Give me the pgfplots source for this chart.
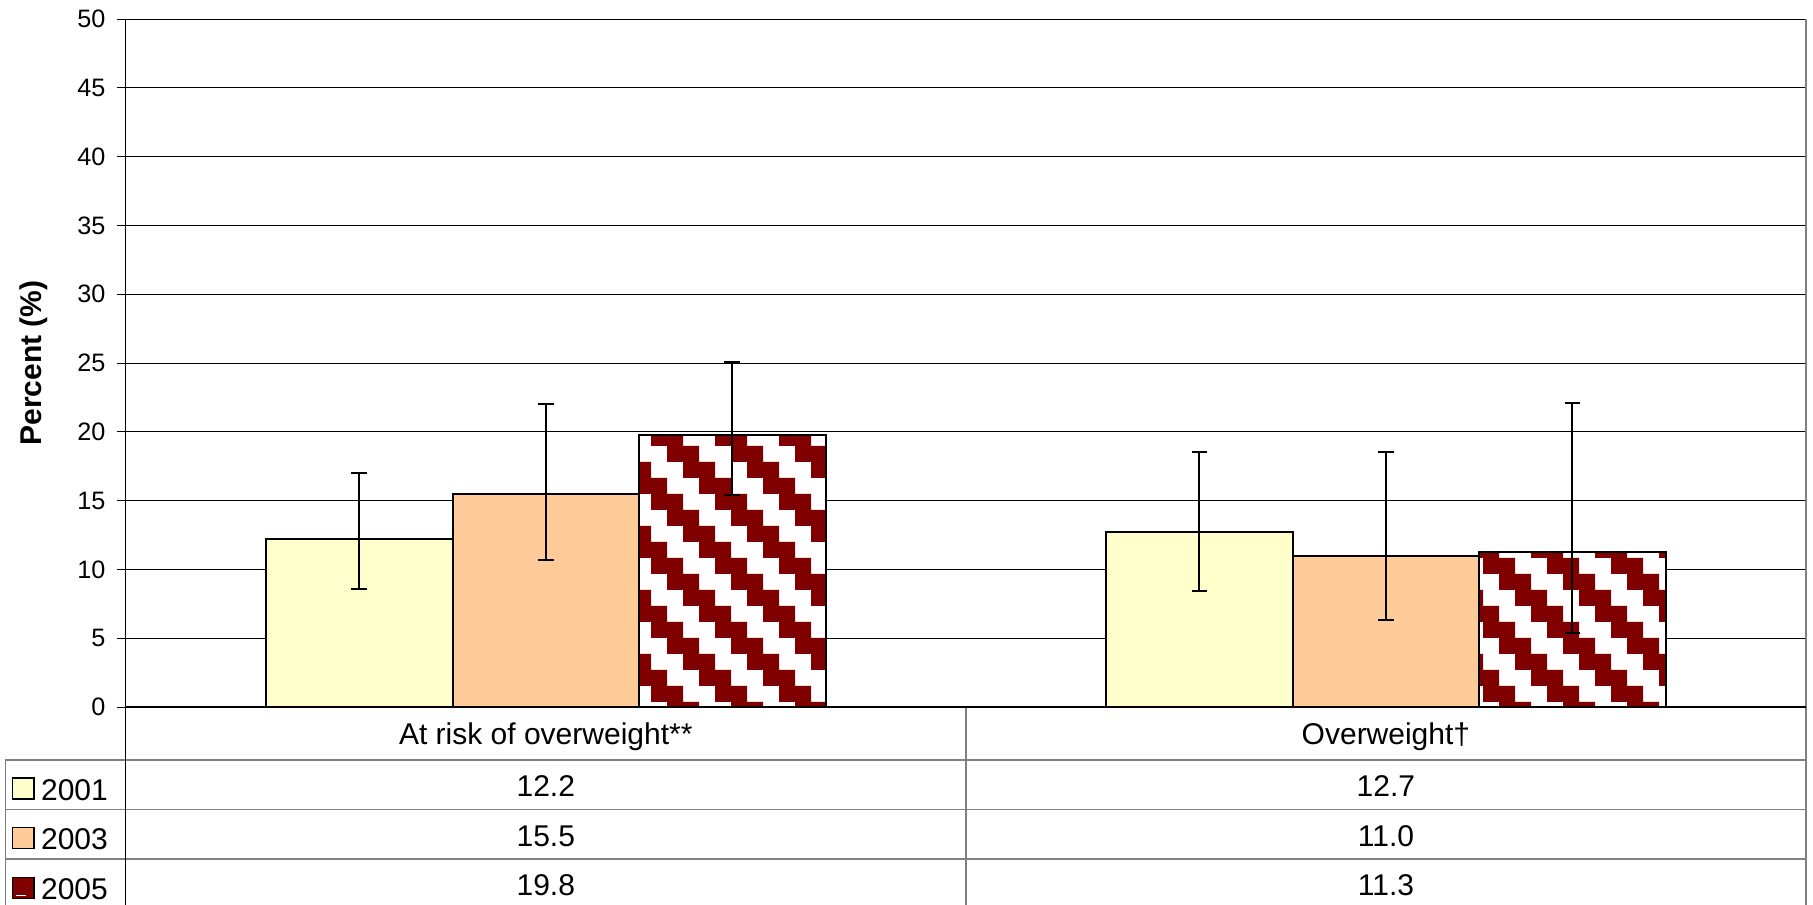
\documentclass[border=0pt]{standalone}
\usepackage{fontspec}
\setmainfont{Liberation Sans}
\usepackage{pgfplots}
\pgfplotsset{compat=1.18}
\usepackage{pgfplotstable}
\usetikzlibrary{patterns}
\definecolor{c01}{HTML}{FFFFCC}
\definecolor{c03}{HTML}{FFCC99}
\definecolor{c05}{HTML}{800000}
\definecolor{tgray}{HTML}{808080}

% staircase diagonal (down-right), 32pt period, rows 8pt tall
\pgfdeclarepatternformonly{stairs}{\pgfpoint{5.5pt}{5pt}}{\pgfpoint{37.5pt}{37pt}}{\pgfpoint{32pt}{32pt}}{%
 \pgfpathrectangle{\pgfpoint{5.5pt}{5pt}}{\pgfpoint{16pt}{8pt}}%
 \pgfpathrectangle{\pgfpoint{29.5pt}{13pt}}{\pgfpoint{8pt}{8pt}}%
 \pgfpathrectangle{\pgfpoint{5.5pt}{13pt}}{\pgfpoint{8pt}{8pt}}%
 \pgfpathrectangle{\pgfpoint{21.5pt}{21pt}}{\pgfpoint{16pt}{8pt}}%
 \pgfpathrectangle{\pgfpoint{13.5pt}{29pt}}{\pgfpoint{16pt}{8pt}}%
 \pgfusepath{fill}}

\pgfplotstableread{
x y ep em
0 12.2 4.8 3.6
1 12.7 5.8 4.3
}\dataA
\pgfplotstableread{
x y ep em
0 15.5 6.5 4.8
1 11.0 7.5 4.7
}\dataB
\pgfplotstableread{
x y ep em
0 19.8 5.3 4.4
1 11.3 10.8 5.9
}\dataC

\begin{document}
\begin{tikzpicture}
\begin{axis}[
  scale only axis, width=840.15pt, height=344pt,
  at={(0,0)}, anchor=south west,
  xmin=-0.5, xmax=1.5, ymin=0, ymax=50,
  ybar=0pt, bar width=0.222,
  xtick=\empty, ytick={0,5,...,50},
  ymajorgrids, grid style={black, line width=0.5pt},
  axis line style={draw=none},
  tick align=outside, ytick pos=left, major tick length=4.5pt,
  tick style={black, line width=0.5pt},
  /pgf/number format/assume math mode=true,
  yticklabel style={font=\fontsize{12.6}{15}\selectfont, anchor=east, inner sep=0pt, xshift=-5.5pt},
  clip=false,
  error bars/y dir=both, error bars/y explicit,
  error bars/error bar style={line width=1pt, black},
  error bars/error mark options={rotate=90, mark size=3.9pt, line width=1pt, black},
]
\addplot[draw=black, line width=1pt, fill=c01] table[x=x, y=y, y error plus=ep, y error minus=em] {\dataA};
\addplot[draw=black, line width=1pt, fill=c03] table[x=x, y=y, y error plus=ep, y error minus=em] {\dataB};
\addplot[draw=black, line width=1pt, preaction={fill=white}, pattern=stairs, pattern color=c05] table[x=x, y=y, y error plus=ep, y error minus=em] {\dataC};
\coordinate (O) at (rel axis cs:0,0);
\end{axis}
\begin{scope}[shift={(O)}]
  % table lines
  \draw[tgray, line width=0.7pt] (840.15pt,344pt) -- (840.15pt,-110pt);
  \draw[tgray, line width=0.7pt] (420.075pt,0pt) -- (420.075pt,-110pt);
  \draw[tgray, line width=0.7pt] (-60.2pt,-26.5pt) -- (-60.2pt,-110pt);
  \foreach \yy in {-26.5,-51.25,-76} {
    \draw[tgray, line width=0.7pt] (-60.2pt,\yy pt) -- (840.15pt,\yy pt);
  }
  \draw[black, line width=0.6pt] (0pt,344pt) -- (0pt,-110pt);
  \draw[black, line width=0.6pt] (0pt,0pt) -- (840.15pt,0pt);
  % y label
  \node[rotate=90, anchor=base, font=\bfseries\fontsize{15}{18}\selectfont, inner sep=0pt] at (-42pt,172pt) {Percent (\%)};
  % category labels
  \begin{scope}[every node/.style={anchor=base, inner sep=0pt, font=\fontsize{15}{18}\selectfont}]
    \node at (210.04pt,-18.5pt) {At risk of overweight**};
    \node at (630.11pt,-18.5pt) {Overweight†};
    \node at (210.04pt,-44.85pt) {12.2};
    \node at (630.11pt,-44.85pt) {12.7};
    \node at (210.04pt,-69.6pt) {15.5};
    \node at (630.11pt,-69.6pt) {11.0};
    \node at (210.04pt,-94.4pt) {19.8};
    \node at (630.11pt,-94.4pt) {11.3};
    \node[anchor=base west] at (-42.5pt,-46.5pt) {2001};
    \node[anchor=base west] at (-42.5pt,-71.3pt) {2003};
    \node[anchor=base west] at (-42.5pt,-96.1pt) {2005};
  \end{scope}
  \draw[black, line width=0.7pt, fill=c01] (-56.7pt,-46pt) rectangle (-45.85pt,-35.5pt);
  \draw[black, line width=0.7pt, fill=c03] (-56.7pt,-70.8pt) rectangle (-45.85pt,-60.3pt);
  \draw[black, line width=0.7pt, fill=c05] (-56.7pt,-95.6pt) rectangle (-45.85pt,-85.1pt);
  \draw[white, line width=0.6pt] (-55pt,-94.2pt) -- (-50pt,-94.2pt);
\end{scope}
\pgfresetboundingbox
\path[use as bounding box] ([shift={(-62.85pt,-98.5pt)}]O) rectangle ([shift={(843.65pt,353.5pt)}]O);
\end{tikzpicture}
\end{document}
